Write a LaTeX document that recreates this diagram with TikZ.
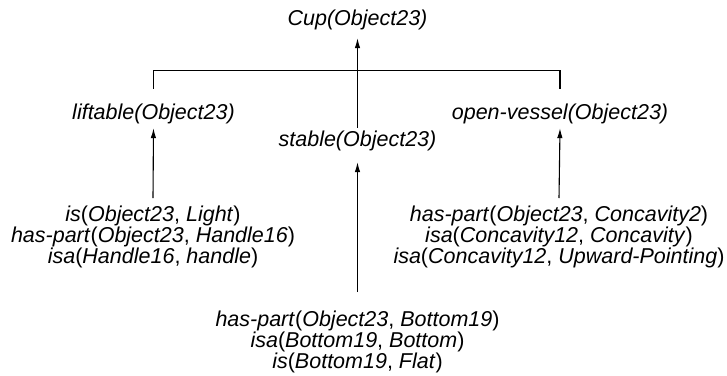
\documentclass[tikz,border=0pt]{standalone}
\usepackage{fontspec}
\setmainfont{Liberation Sans}
\usetikzlibrary{arrows.meta}

% predicate with upright brackets and comma
\newcommand{\fact}[3]{\textit{#1}(\textit{#2}, \textit{#3})}

\begin{document}
\begin{tikzpicture}[x=1pt, y=-1pt,
    goal/.style={inner sep=0pt, font=\fontsize{21.5}{21}\selectfont\itshape},
    facts/.style={inner sep=0pt, align=center, font=\fontsize{21.5}{21}\selectfont},
    link/.style={line width=1.1pt},
    up/.style={link, -{Latex[length=10pt, width=5.5pt]}}]
    \useasboundingbox (0,0) rectangle (727,375);

    % goal and sub-goals
    \node[goal, anchor=base] (cup) at (357.5,25) {Cup(Object23)};
    \node[goal, anchor=base] (liftable) at (153.5,119) {liftable(Object23)};
    \node[goal, anchor=base] (vessel) at (560,119) {open-vessel(Object23)};
    \node[goal, anchor=base] (stable) at (357.5,146) {stable(Object23)};

    % supporting facts
    \node[facts, anchor=north] (liftfacts) at (153,205.3)
        {\fact{is}{Object23}{Light}\\ \fact{has-part}{Object23}{Handle16}\\ \fact{isa}{Handle16}{handle}};
    \node[facts, anchor=north] (vesselfacts) at (559,205.3)
        {\fact{has-part}{Object23}{Concavity2}\\ \fact{isa}{Concavity12}{Concavity}\\ \fact{isa}{Concavity12}{Upward-Pointing}};
    \node[facts, anchor=north] (stablefacts) at (357.5,310.3)
        {\fact{has-part}{Object23}{Bottom19}\\ \fact{isa}{Bottom19}{Bottom}\\ \fact{is}{Bottom19}{Flat}};

    % bracket joining the sub-goals
    \draw[link] ([yshift=14.3pt]liftable.north) -- ++(0,-18) -| ([yshift=14.3pt]vessel.north);

    % arrows
    \draw[up] ([yshift=2.3pt]stable.north) -- ([yshift=-8.5pt]cup.south);
    \draw[up] ([yshift=7.3pt]liftfacts.north) -- ([yshift=-4.5pt]liftable.south);
    \draw[up] ([yshift=7.3pt]vesselfacts.north) -- ([yshift=-4.5pt]vessel.south);
    \draw[up] ([yshift=18.3pt]stablefacts.north) -- ([yshift=-11.5pt]stable.south);
\end{tikzpicture}
\end{document}
